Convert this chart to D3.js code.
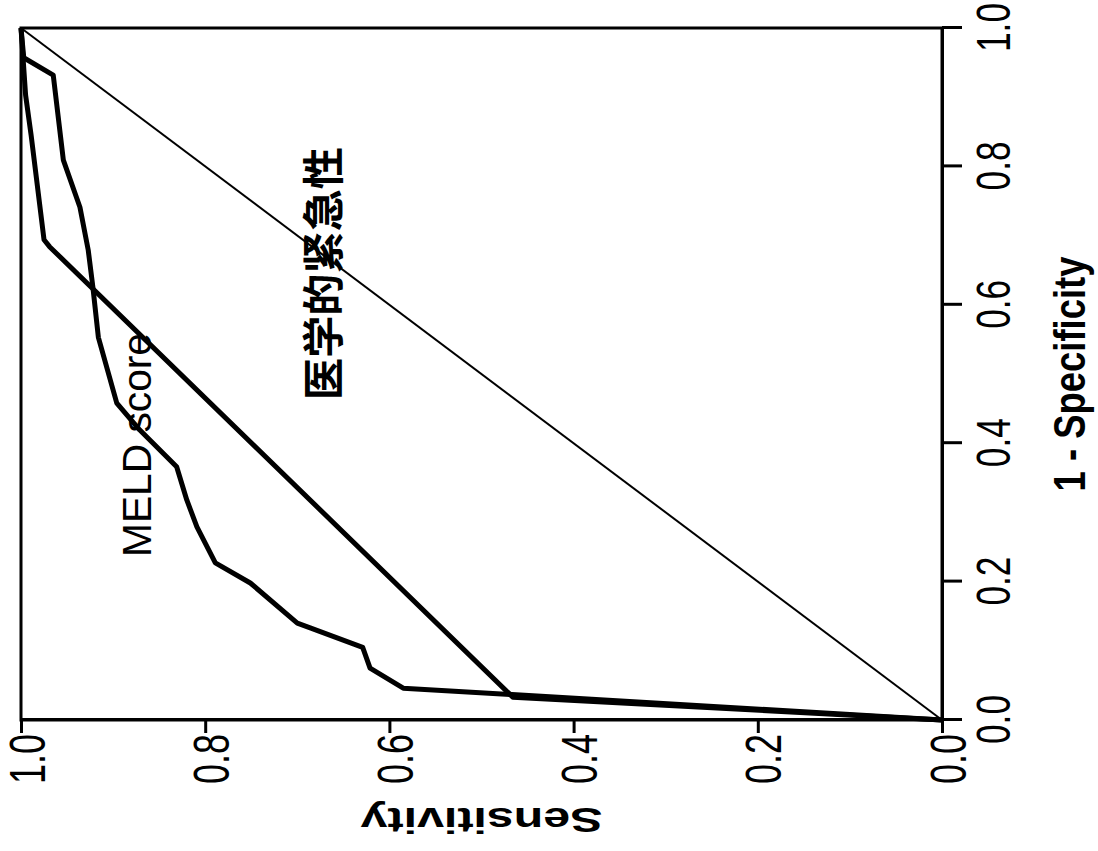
<!DOCTYPE html>
<html>
<head>
<meta charset="utf-8">
<script src="https://cdn.jsdelivr.net/npm/d3@7"></script>
<style>
  body { margin: 0; background: #fff; }
  text { font-family: "Liberation Sans", Arial, sans-serif; fill: #000; }
</style>
</head>
<body>
<svg id="chart" width="1098" height="851"></svg>
<script>
/* ROC data */
var meldFpr  = [0, 0.046, 0.075, 0.105, 0.133, 0.140, 0.198, 0.227, 0.279, 0.318, 0.366, 0.419, 0.458, 0.553, 0.626, 0.679, 0.741, 0.809, 0.932, 0.957, 1];
var meldSens = [0, 0.585, 0.621, 0.629, 0.686, 0.700, 0.751, 0.789, 0.809, 0.820, 0.831, 0.871, 0.896, 0.916, 0.922, 0.927, 0.936, 0.954, 0.965, 0.997, 1];
var urgFpr   = [0, 0.033, 0.684, 0.694, 0.845, 0.903, 1];
var urgSens  = [0, 0.466, 0.969, 0.975, 0.989, 0.995, 1];
var refLine  = [0, 1];
var tickVals = [0, 0.2, 0.4, 0.6, 0.8, 1.0];

/* the whole chart is turned a quarter turn to the left */
var plotW = 692, plotH = 921;
var svg = d3.select('#chart');
var g = svg.append('g')
  .attr('transform', 'translate(21,720) rotate(-90)');

var xScale = d3.scaleLinear().domain([0, 1]).range([0, plotW]);
var yScale = d3.scaleLinear().domain([0, 1]).range([plotH, 0]);

/* frame */
g.append('rect')
  .attr('x', 0).attr('y', 0)
  .attr('width', plotW).attr('height', plotH)
  .attr('fill', 'none')
  .attr('stroke', '#000')
  .attr('stroke-width', 3);

/* axes */
var fmt = d3.format('.1f');
var xAxis = d3.axisBottom(xScale).tickValues(tickVals).tickSize(20).tickSizeOuter(0).tickFormat(fmt);
var yAxis = d3.axisLeft(yScale).tickValues(tickVals).tickSize(13).tickSizeOuter(0).tickFormat(fmt);

var gx = g.append('g')
  .attr('transform', 'translate(0,' + plotH + ')')
  .call(xAxis);
gx.selectAll('text')
  .attr('y', 68).attr('dy', null)
  .attr('font-size', 49)
  .attr('textLength', 49)
  .attr('lengthAdjust', 'spacingAndGlyphs');

var gy = g.append('g').call(yAxis);
gy.selectAll('text')
  .attr('x', -14).attr('y', 23).attr('dy', null)
  .attr('font-size', 50)
  .attr('textLength', 50)
  .attr('lengthAdjust', 'spacingAndGlyphs');

g.selectAll('.domain').attr('stroke-width', 3);
g.selectAll('.tick line').attr('stroke-width', 3);
g.selectAll('.tick text').attr('font-family', '"Liberation Sans", Arial, sans-serif');

/* reference diagonal */
var line = d3.line()
  .x(function (d) { return xScale(d[0]); })
  .y(function (d) { return yScale(d[1]); });

g.append('path')
  .datum(d3.zip(refLine, refLine))
  .attr('d', line)
  .attr('fill', 'none')
  .attr('stroke', '#000')
  .attr('stroke-width', 2);

/* curves */
[d3.zip(urgFpr, urgSens), d3.zip(meldFpr, meldSens)].forEach(function (pts) {
  g.append('path')
    .datum(pts)
    .attr('d', line)
    .attr('fill', 'none')
    .attr('stroke', '#000')
    .attr('stroke-width', 5)
    .attr('stroke-linejoin', 'round');
});

/* axis titles */
g.append('text')
  .attr('x', xScale(0.5)).attr('y', 1064)
  .attr('text-anchor', 'middle')
  .attr('font-size', 45)
  .attr('font-weight', 'bold')
  .attr('textLength', 235)
  .attr('lengthAdjust', 'spacingAndGlyphs')
  .text('1 - Specificity');

g.append('text')
  .attr('transform', 'translate(-88,' + yScale(0.5) + ') rotate(-90)')
  .attr('text-anchor', 'middle')
  .attr('font-size', 35)
  .attr('font-weight', 'bold')
  .attr('textLength', 242)
  .attr('lengthAdjust', 'spacingAndGlyphs')
  .text('Sensitivity');

/* curve labels */
g.append('text')
  .attr('x', 163).attr('y', 130)
  .attr('font-size', 40)
  .attr('textLength', 224)
  .attr('lengthAdjust', 'spacingAndGlyphs')
  .text('MELD score');

g.append('text')
  .attr('x', 320).attr('y', 318)
  .attr('font-size', 42)
  .attr('font-weight', 'bold')
  .style('font-family', '"Noto Sans CJK SC", "Noto Sans CJK JP", sans-serif')
  .attr('textLength', 253)
  .attr('lengthAdjust', 'spacingAndGlyphs')
  .text('医学的紧急性');
</script>
</body>
</html>
